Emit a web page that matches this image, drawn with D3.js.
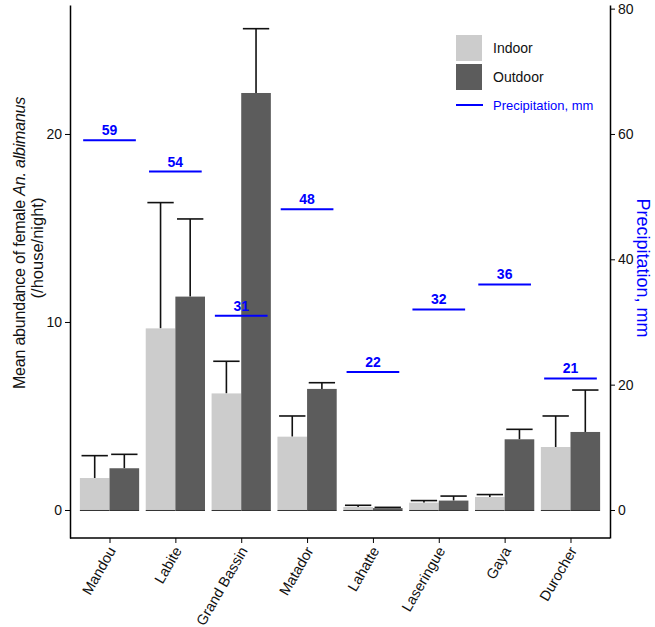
<!DOCTYPE html>
<html>
<head>
<meta charset="utf-8">
<script src="https://cdn.jsdelivr.net/npm/d3@7"></script>
<style>
  body { margin: 0; background: #fff; }
  text { font-family: "Liberation Sans", Arial, sans-serif; }
</style>
</head>
<body>
<div id="chart"></div>
<script>
// Mosquito abundance by site, with precipitation on a secondary axis

const sites = ["Mandou", "Labite", "Grand Bassin", "Matador", "Lahatte", "Laseringue", "Gaya", "Durocher"];
const indoorMean = [1.7, 9.66, 6.2, 3.9, 0.16, 0.39, 0.69, 3.35];
const indoorUpper = [2.89, 16.35, 7.91, 5.0, 0.25, 0.5, 0.82, 5.0];
const outdoorMean = [2.22, 11.35, 22.18, 6.44, 0.1, 0.5, 3.76, 4.15];
const outdoorUpper = [2.96, 15.48, 25.6, 6.77, 0.14, 0.74, 4.29, 6.38];
const precipitation = [59, 54, 31, 48, 22, 32, 36, 21];
const leftTicks = [0, 10, 20];
const rightTicks = [0, 20, 40, 60, 80];

const width = 655;
const height = 627;
const margin = {top: 5, right: 45, bottom: 89, left: 70};
const plotRight = width - margin.right;
const plotBottom = height - margin.bottom;

const indoorColor = "#cccccc";
const outdoorColor = "#5c5c5c";
const blue = "#0000ff";

const svg = d3.select("#chart")
    .append("svg")
    .attr("width", width)
    .attr("height", height);

const x = d3.scalePoint()
    .domain(sites)
    .range([margin.left, plotRight])
    .padding(0.6);
const step = x.step();
const barW = step * 0.45;

const y = d3.scaleLinear()
    .domain([-1.49, 26.86])
    .range([plotBottom, margin.top]);
// secondary axis is the primary one times 3
const yRight = d3.scaleLinear()
    .domain(y.domain().map(d => d * 3))
    .range(y.range());

const data = sites.map((s, i) => ({
    site: s,
    groups: [
        {key: "Indoor", mean: indoorMean[i], upper: indoorUpper[i], off: -barW / 2, color: indoorColor},
        {key: "Outdoor", mean: outdoorMean[i], upper: outdoorUpper[i], off: barW / 2, color: outdoorColor}
    ],
    precip: precipitation[i]
}));

const bars = data.flatMap(d => d.groups.map(g => ({site: d.site, ...g})));

// error bars (behind the bars)
const eb = svg.append("g").attr("stroke", "#111").attr("stroke-width", 1.6);
eb.selectAll("line.whisker")
    .data(bars)
    .join("line")
    .attr("class", "whisker")
    .attr("x1", d => x(d.site) + d.off)
    .attr("x2", d => x(d.site) + d.off)
    .attr("y1", d => y(d.mean))
    .attr("y2", d => y(d.upper));
eb.selectAll("line.cap")
    .data(bars)
    .join("line")
    .attr("class", "cap")
    .attr("x1", d => x(d.site) + d.off - step * 0.2)
    .attr("x2", d => x(d.site) + d.off + step * 0.2)
    .attr("y1", d => y(d.upper))
    .attr("y2", d => y(d.upper));

svg.append("g")
    .selectAll("rect")
    .data(bars)
    .join("rect")
    .attr("x", d => x(d.site) + d.off - barW / 2)
    .attr("width", barW)
    .attr("y", d => y(d.mean))
    .attr("height", d => y(0) - y(d.mean))
    .attr("fill", d => d.color);

// thin dark base under each bar
svg.append("g")
    .selectAll("line")
    .data(bars)
    .join("line")
    .attr("x1", d => x(d.site) + d.off - barW / 2)
    .attr("x2", d => x(d.site) + d.off + barW / 2)
    .attr("y1", y(0) + 0.5)
    .attr("y2", y(0) + 0.5)
    .attr("stroke", "#333")
    .attr("stroke-width", 1);

// precipitation segments
const pr = svg.append("g");
pr.selectAll("line")
    .data(data)
    .join("line")
    .attr("x1", d => x(d.site) - step * 0.4)
    .attr("x2", d => x(d.site) + step * 0.4)
    .attr("y1", d => yRight(d.precip))
    .attr("y2", d => yRight(d.precip))
    .attr("stroke", blue)
    .attr("stroke-width", 2);
pr.selectAll("text")
    .data(data)
    .join("text")
    .attr("x", d => x(d.site))
    .attr("y", d => yRight(d.precip) - 5)
    .attr("text-anchor", "middle")
    .attr("fill", blue)
    .attr("font-size", 14)
    .attr("font-weight", "bold")
    .text(d => d.precip);

// axes
const xAxis = svg.append("g")
    .attr("transform", `translate(0, ${plotBottom})`)
    .call(d3.axisBottom(x).tickSize(5).tickSizeOuter(0));
xAxis.select(".domain").attr("d", `M${margin.left},0H${plotRight}`);
xAxis.selectAll(".tick text")
    .attr("font-size", 14.5)
    .attr("fill", "#111")
    .attr("text-anchor", "end")
    .attr("dy", "0.35em")
    .attr("transform", "translate(2, 10) rotate(-60)")
    .attr("x", 0)
    .attr("y", 0);

const leftAxis = svg.append("g")
    .attr("transform", `translate(${margin.left}, 0)`)
    .call(d3.axisLeft(y).tickValues(leftTicks).tickSize(5).tickSizeOuter(0));
leftAxis.selectAll(".tick text").attr("font-size", 14).attr("fill", "#111").attr("x", -8);

const rightAxis = svg.append("g")
    .attr("transform", `translate(${plotRight}, 0)`)
    .call(d3.axisRight(yRight).tickValues(rightTicks).tickSize(5).tickSizeOuter(0));
rightAxis.selectAll(".tick text").attr("font-size", 14).attr("fill", "#111").attr("x", 8);

svg.selectAll(".domain").attr("stroke", "#000").attr("stroke-width", 1.5);
svg.selectAll(".tick line").attr("stroke", "#000");

// axis titles
const yTitle = svg.append("text")
    .attr("transform", "translate(25, 243) rotate(-90)")
    .attr("text-anchor", "middle")
    .attr("font-size", 16)
    .attr("letter-spacing", -0.2)
    .attr("fill", "#111");
yTitle.append("tspan").text("Mean abundance of female ");
yTitle.append("tspan").attr("font-style", "italic").text("An. albimanus");
svg.append("text")
    .attr("transform", "translate(43, 248) rotate(-90)")
    .attr("text-anchor", "middle")
    .attr("font-size", 16.5)
    .attr("fill", "#111")
    .text("(/house/night)");

svg.append("text")
    .attr("transform", "translate(637, 268) rotate(90)")
    .attr("text-anchor", "middle")
    .attr("font-size", 18)
    .attr("fill", blue)
    .text("Precipitation, mm");

// legend
const legend = svg.append("g").attr("transform", "translate(456, 35)");
const keys = [{label: "Indoor", color: indoorColor}, {label: "Outdoor", color: outdoorColor}];
keys.forEach((k, i) => {
    legend.append("rect")
        .attr("x", 0).attr("y", i * 29)
        .attr("width", 26).attr("height", 26)
        .attr("fill", k.color);
    legend.append("text")
        .attr("x", 37).attr("y", i * 29 + 13)
        .attr("dy", "0.35em")
        .attr("font-size", 14)
        .attr("fill", "#111")
        .text(k.label);
});
legend.append("line")
    .attr("x1", 0).attr("x2", 27)
    .attr("y1", 70).attr("y2", 70)
    .attr("stroke", blue).attr("stroke-width", 2);
legend.append("text")
    .attr("x", 37).attr("y", 70)
    .attr("dy", "0.35em")
    .attr("font-size", 13)
    .attr("fill", blue)
    .text("Precipitation, mm");
</script>
</body>
</html>
